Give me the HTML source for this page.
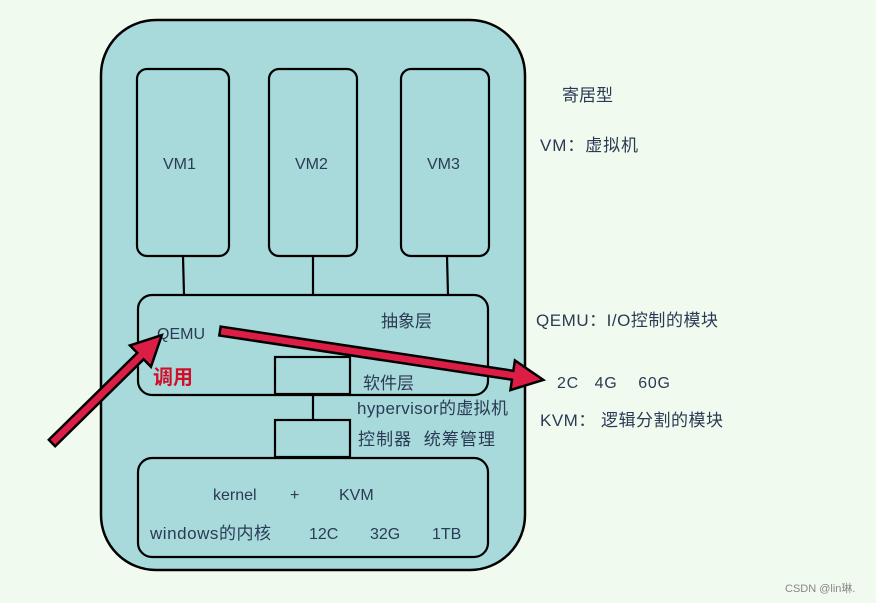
<!DOCTYPE html>
<html><head><meta charset="utf-8"><style>
html,body{margin:0;padding:0;background:#f1faee;}
body{width:876px;height:603px;overflow:hidden;position:relative;font-family:"Liberation Sans","Noto Sans CJK SC",sans-serif;}
</style></head><body>
<svg width="876" height="603" xmlns="http://www.w3.org/2000/svg" style="position:absolute;left:0;top:0" font-family="Liberation Sans, Noto Sans CJK SC, sans-serif">
<rect x="0" y="0" width="876" height="603" fill="#f1faee"/>
<rect x="101" y="20" width="424" height="550" rx="55" fill="#a8dadc" stroke="#000" stroke-width="2.5"/>
<g fill="#a8dadc" stroke="#000" stroke-width="2.2">
<rect x="137" y="69" width="92" height="187" rx="10"/>
<rect x="269" y="69" width="88" height="187" rx="10"/>
<rect x="401" y="69" width="88" height="187" rx="10"/>
<line x1="183" y1="256" x2="184" y2="295"/>
<line x1="313" y1="256" x2="313" y2="295"/>
<line x1="447" y1="256" x2="448" y2="295"/>
<rect x="138" y="295" width="350" height="100" rx="14"/>
<rect x="275" y="357" width="75" height="37" rx="0"/>
<line x1="313" y1="394" x2="313" y2="420"/>
<rect x="275" y="420" width="75" height="37"/>
<rect x="138" y="458" width="350" height="99" rx="14"/>
</g>
<g fill="#2b3a55" font-size="16">
<text x="163" y="169">VM1</text>
<text x="295" y="169">VM2</text>
<text x="427" y="169">VM3</text>
<text x="157" y="339">QEMU</text>
<text x="213" y="500">kernel</text>
<text x="290" y="500">+</text>
<text x="339" y="500">KVM</text>
<text x="309" y="539">12C</text>
<text x="370" y="539">32G</text>
<text x="432" y="539">1TB</text>
<text x="557" y="388" textLength="113">2C&#160;&#160;&#160;4G&#160;&#160;&#160;&#160;60G</text>
</g>
<g fill="#2b3a55" font-size="17">
<text x="381" y="327">抽象层</text>
<text x="363" y="389">软件层</text>
<text x="357" y="414" textLength="151">hypervisor的虚拟机</text>
<text x="358" y="445" textLength="137">控制器&#160;&#160;统筹管理</text>
<text x="150" y="539" textLength="121">windows的内核</text>
<text x="562" y="101">寄居型</text>
<text x="540" y="151" textLength="98">VM：虚拟机</text>
<text x="536" y="326" textLength="182">QEMU：I/O控制的模块</text>
<text x="540" y="426" textLength="183">KVM： 逻辑分割的模块</text>
</g>
<text x="153" y="384" font-size="20" font-weight="bold" fill="#d0102a">调用</text>
<text x="785" y="592" font-size="11" fill="#888">CSDN @lin琳.</text>
<g fill="#dc1e46" stroke="#000" stroke-width="2.5" stroke-linejoin="miter">
<polygon transform="translate(52,443) rotate(-44.5)" points="0,-4.5 124,-4.5 124,-15 154,0 124,15 124,4.5 0,4.5"/>
<polygon transform="translate(220,331) rotate(8.6)" points="0,-4.5 296,-4.5 296,-15 327,0 296,15 296,4.5 0,4.5"/>
</g>
</svg>
</body></html>
